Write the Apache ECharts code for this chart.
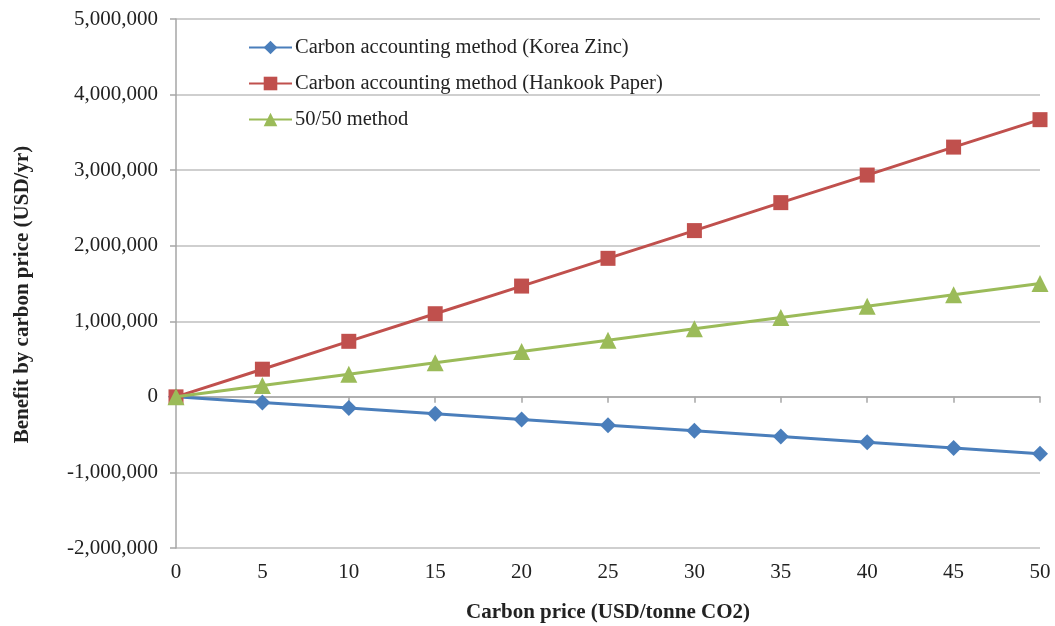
<!DOCTYPE html>
<html>
<head>
<meta charset="utf-8">
<script src="https://cdn.jsdelivr.net/npm/echarts@6/dist/echarts.min.js"></script>
<style>
html, body { margin: 0; padding: 0; background: #ffffff; }
#chart { width: 1055px; height: 626px; }
</style>
</head>
<body>
<div id="chart"></div>
<script>
// carbon price (USD/tonne CO2)
var prices = [0, 5, 10, 15, 20, 25, 30, 35, 40, 45, 50]
// benefit by carbon price (USD/yr)
var koreaZinc = [0, -75000, -148000, -225000, -300000, -375000, -450000, -525000, -600000, -678000, -752000]
var hankookPaper = [0, 366000, 735000, 1100000, 1466000, 1833000, 2200000, 2570000, 2935000, 3305000, 3668000]
var fiftyFifty = [0, 150000, 300000, 450000, 600000, 750000, 900000, 1050000, 1200000, 1350000, 1500000]
var seriesNames = [
  'Carbon accounting method (Korea Zinc)',
  'Carbon accounting method (Hankook Paper)',
  '50/50 method'
]

function pairs (ys) {
  return prices.map(function (x, i) { return [x, ys[i]] })
}

var font = 'Liberation Serif'
var chart = echarts.init(document.getElementById('chart'))
chart.setOption({
  animation: false,
  textStyle: { fontFamily: font },
  grid: { left: 176, right: 15, top: 19, bottom: 78, outerBoundsMode: 'none', containLabel: false },
  legend: {
    orient: 'vertical',
    left: 243,
    top: 32,
    itemGap: 15,
    itemWidth: 43,
    itemHeight: 17,
    data: seriesNames,
    textStyle: { fontFamily: font, fontSize: 20.5, color: '#222222', padding: [0, 0, 0, -2] }
  },
  xAxis: [{
    type: 'value',
    min: 0,
    max: 50,
    interval: 5,
    axisLine: { onZero: true, lineStyle: { color: '#a6a6a6', width: 1.5 } },
    axisTick: { show: true, length: 6, lineStyle: { color: '#a6a6a6', width: 1.5 } },
    axisLabel: { show: false },
    splitLine: { show: false }
  }, {
    type: 'value',
    position: 'bottom',
    min: 0,
    max: 50,
    interval: 5,
    axisLine: { show: false, onZero: false },
    axisTick: { show: false },
    axisLabel: { margin: 14, fontFamily: font, fontSize: 21, color: '#222222' },
    splitLine: { show: false },
    name: 'Carbon price (USD/tonne CO2)',
    nameLocation: 'middle',
    nameGap: 54,
    nameTextStyle: { fontFamily: font, fontSize: 21, fontWeight: 'bold', color: '#222222' }
  }],
  yAxis: {
    type: 'value',
    min: -2000000,
    max: 5000000,
    interval: 1000000,
    axisLine: { show: true, lineStyle: { color: '#a6a6a6', width: 1.5 } },
    axisTick: { show: true, length: 6, lineStyle: { color: '#a6a6a6', width: 1.5 } },
    axisLabel: {
      margin: 18,
      fontFamily: font,
      fontSize: 21,
      color: '#222222',
      formatter: function (v) { return v.toLocaleString('en-US') }
    },
    splitLine: { show: true, lineStyle: { color: '#bfbfbf', width: 1.5 } },
    name: 'Benefit by carbon price (USD/yr)',
    nameLocation: 'middle',
    nameGap: 143,
    nameTextStyle: { fontFamily: font, fontSize: 21, fontWeight: 'bold', color: '#222222', padding: [0, 22, 0, 0] }
  },
  series: [{
    name: seriesNames[0],
    type: 'line',
    data: pairs(koreaZinc),
    symbol: 'diamond',
    symbolSize: 16,
    color: '#4a7ebb',
    lineStyle: { width: 3 },
    z: 2
  }, {
    name: seriesNames[1],
    type: 'line',
    data: pairs(hankookPaper),
    symbol: 'rect',
    symbolSize: 15,
    color: '#c0504d',
    lineStyle: { width: 3 },
    z: 3
  }, {
    name: seriesNames[2],
    type: 'line',
    data: pairs(fiftyFifty),
    symbol: 'triangle',
    symbolSize: 17,
    color: '#9bbb59',
    lineStyle: { width: 3 },
    z: 4
  }]
})
</script>
</body>
</html>
